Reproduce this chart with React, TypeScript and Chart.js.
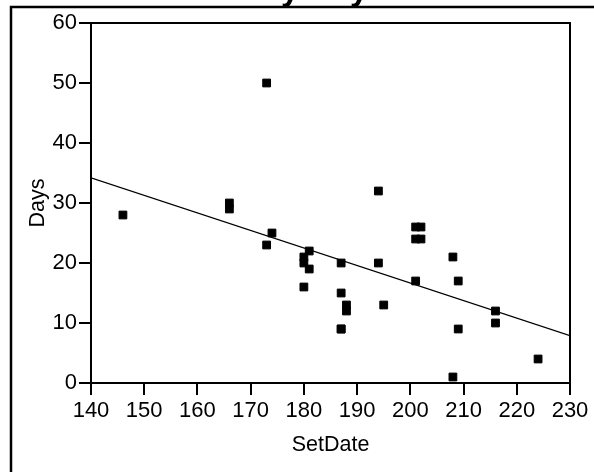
import React, { useEffect, useRef } from "react";
import { Chart, registerables } from "chart.js";

Chart.register(...registerables);

const setDate = [146, 166, 166, 173, 173, 174, 180, 180, 180, 181, 181, 187, 187, 187, 187, 188, 188, 194, 194, 195, 201, 202, 201, 202, 201, 208, 209, 209, 208, 216, 216, 224];
const days = [28, 30, 29, 50, 23, 25, 21, 20, 16, 22, 19, 20, 15, 9, 9, 13, 12, 32, 20, 13, 26, 26, 24, 24, 17, 21, 17, 9, 1, 12, 10, 4];
const fitX = [140, 230];
const fitY = [34.2, 7.9];
const xTitle = "SetDate";
const yTitle = "Days";
const chartTitle = "Bivariate Fit of Days By SetDate";

const FONT = "'Liberation Sans', Arial, sans-serif";

const framePlugin = {
  id: "frame",
  afterDraw(chart: any) {
    const { ctx, chartArea } = chart;
    ctx.save();
    ctx.strokeStyle = "#000";
    ctx.lineWidth = 2;
    ctx.beginPath();
    ctx.moveTo(chartArea.left, chartArea.top);
    ctx.lineTo(chartArea.right, chartArea.top);
    ctx.lineTo(chartArea.right, chartArea.bottom);
    ctx.stroke();
    // outer frame
    ctx.lineWidth = 2.5;
    ctx.beginPath();
    ctx.moveTo(11, 472);
    ctx.lineTo(11, 7);
    ctx.lineTo(594, 7);
    ctx.stroke();
    // title (mostly cut off above the picture)
    ctx.fillStyle = "#000";
    ctx.font = "bold 32.7px " + FONT;
    ctx.textBaseline = "alphabetic";
    ctx.textAlign = "left";
    const pre = ctx.measureText("Bivariate Fit of Da").width;
    ctx.fillText(chartTitle, 281 - pre, 0);
    ctx.restore();
  },
};

export default function App() {
  const ref = useRef<HTMLCanvasElement>(null);
  useEffect(() => {
    if (!ref.current) return;
    const chart = new Chart(ref.current, {
      type: "scatter",
      data: {
        datasets: [
          {
            type: "line",
            data: fitX.map((x, i) => ({ x, y: fitY[i] })),
            borderColor: "#000",
            borderWidth: 1.2,
            pointRadius: 0,
            fill: false,
          },
          {
            data: setDate.map((x, i) => ({ x, y: days[i] })),
            pointStyle: "rect",
            pointRadius: 5.5,
            backgroundColor: "#000",
            borderColor: "#000",
            borderWidth: 1,
          },
        ],
      },
      options: {
        responsive: false,
        animation: false,
        devicePixelRatio: 1,
        layout: { padding: { top: 23, right: 24, left: 0, bottom: 0 } },
        plugins: { legend: { display: false }, tooltip: { enabled: false }, title: { display: false } },
        scales: {
          x: {
            type: "linear",
            min: 140,
            max: 230,
            afterFit: (s: any) => { s.height = 89; },
            ticks: { stepSize: 10, color: "#000", padding: 3, font: { family: FONT, size: 22 } },
            grid: { drawOnChartArea: false, drawTicks: true, tickLength: 12, color: "#000", lineWidth: 2 },
            border: { display: true, color: "#000", width: 2 },
            title: { display: true, text: xTitle, color: "#000", font: { family: FONT, size: 21.5 }, padding: { top: 0, bottom: 14 } },
          },
          y: {
            type: "linear",
            min: 0,
            max: 60,
            afterFit: (s: any) => { s.width = 91; },
            ticks: { stepSize: 10, color: "#000", padding: 2, font: { family: FONT, size: 22 } },
            grid: { drawOnChartArea: false, drawTicks: true, tickLength: 12, color: "#000", lineWidth: 2 },
            border: { display: true, color: "#000", width: 2 },
            title: { display: true, text: yTitle, color: "#000", font: { family: FONT, size: 21.5 }, padding: { top: 25, bottom: 0 } },
          },
        },
      },
      plugins: [framePlugin],
    });
    return () => chart.destroy();
  }, []);
  return (
    <div style={{ position: "fixed", left: 0, top: 0, width: 594, height: 472, background: "#fff" }}>
      <canvas ref={ref} width={594} height={472} style={{ display: "block" }} />
    </div>
  );
}
